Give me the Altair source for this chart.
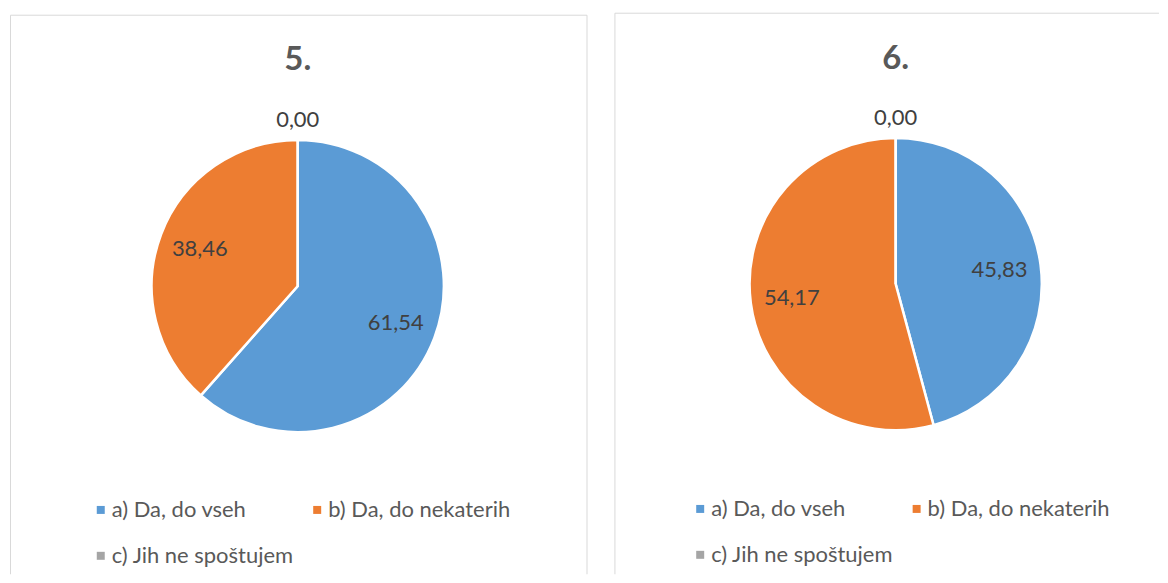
import altair as alt
import pandas as pd

# ---- data ----
categories = ["a) Da, do vseh", "b) Da, do nekaterih", "c) Jih ne spoštujem"]
values_5 = [61.54, 38.46, 0.00]
values_6 = [45.83, 54.17, 0.00]
titles = ["5.", "6."]
colors = ["#5B9BD5", "#ED7D31", "#A5A5A5"]

FONT = "Lato"
BORDER = "#D9D9D9"
FS = 22


def rule_h(x, x2, y):
    return alt.Chart(pd.DataFrame({"k": [0]})).mark_rule(color=BORDER, strokeWidth=1).encode(
        x=alt.value(x), x2=alt.value(x2), y=alt.value(y))


def rule_v(x, y, y2):
    return alt.Chart(pd.DataFrame({"k": [0]})).mark_rule(color=BORDER, strokeWidth=1).encode(
        x=alt.value(x), y=alt.value(y), y2=alt.value(y2))


def panel(title, values, cx, cy, ty, borders, leg_x, leg_y, col_pad, width, height):
    df = pd.DataFrame({"cat": categories, "val": values})
    base = alt.Chart(df).transform_calculate(
        label="replace(format(datum.val, '.2f'), '.', ',')")

    pie = base.mark_arc(outerRadius=146.5, stroke="white", strokeWidth=2.5).encode(
        theta=alt.Theta("val:Q", stack=True),
        color=alt.Color(
            "cat:N",
            scale=alt.Scale(domain=categories, range=colors),
            legend=alt.Legend(
                title=None, orient="none", legendX=leg_x, legendY=leg_y,
                direction="horizontal", columns=2, symbolType="square",
                symbolSize=64, symbolStrokeWidth=0, labelFont=FONT,
                labelFontSize=FS, labelColor="#595959", labelOffset=0,
                columnPadding=col_pad, rowPadding=24, padding=0, labelLimit=400),
        ),
        order=alt.Order("cat:N"),
        x=alt.value(cx), y=alt.value(cy),
    )

    labels = base.transform_filter("datum.val > 0").mark_text(
        radius=105, font=FONT, fontSize=FS, color="#404040").encode(
        theta=alt.Theta("val:Q", stack=True),
        order=alt.Order("cat:N"),
        text="label:N",
        x=alt.value(cx), y=alt.value(cy),
    )

    zero_labels = base.transform_filter("datum.val == 0").mark_text(
        radius=166, font=FONT, fontSize=FS, color="#404040").encode(
        theta=alt.Theta("val:Q", stack=True),
        order=alt.Order("cat:N"),
        text="label:N",
        x=alt.value(cx), y=alt.value(cy),
    )

    ttl = alt.Chart(pd.DataFrame({"t": [title]})).mark_text(
        font=FONT, fontSize=33, fontWeight="bold", color="#595959").encode(
        text="t:N", x=alt.value(cx), y=alt.value(ty))

    layers = [*borders, pie, labels, zero_labels, ttl]
    return alt.layer(*layers).properties(width=width, height=height)


W1, W2, H = 584, 570, 567

p1 = panel(
    titles[0], values_5, cx=290.5, cy=278, ty=51,
    borders=[rule_h(2.5, 580.5, 6.5), rule_v(2.5, 6.5, H), rule_v(580.5, 6.5, H)],
    leg_x=82, leg_y=491.5, col_pad=12, width=W1, height=H,
)
p2 = panel(
    titles[1], values_6, cx=306, cy=276, ty=50,
    borders=[rule_h(24.5, W2, 4.5), rule_v(24.5, 4.5, H)],
    leg_x=99, leg_y=490.5, col_pad=12, width=W2, height=H,
)

chart = (
    alt.hconcat(p1, p2, spacing=0)
    .resolve_scale(color="independent", theta="independent")
    .configure_view(strokeWidth=0)
    .properties(padding=0, background="white")
)

chart.save("out.html", embed_options={"renderer": "svg", "actions": False})
